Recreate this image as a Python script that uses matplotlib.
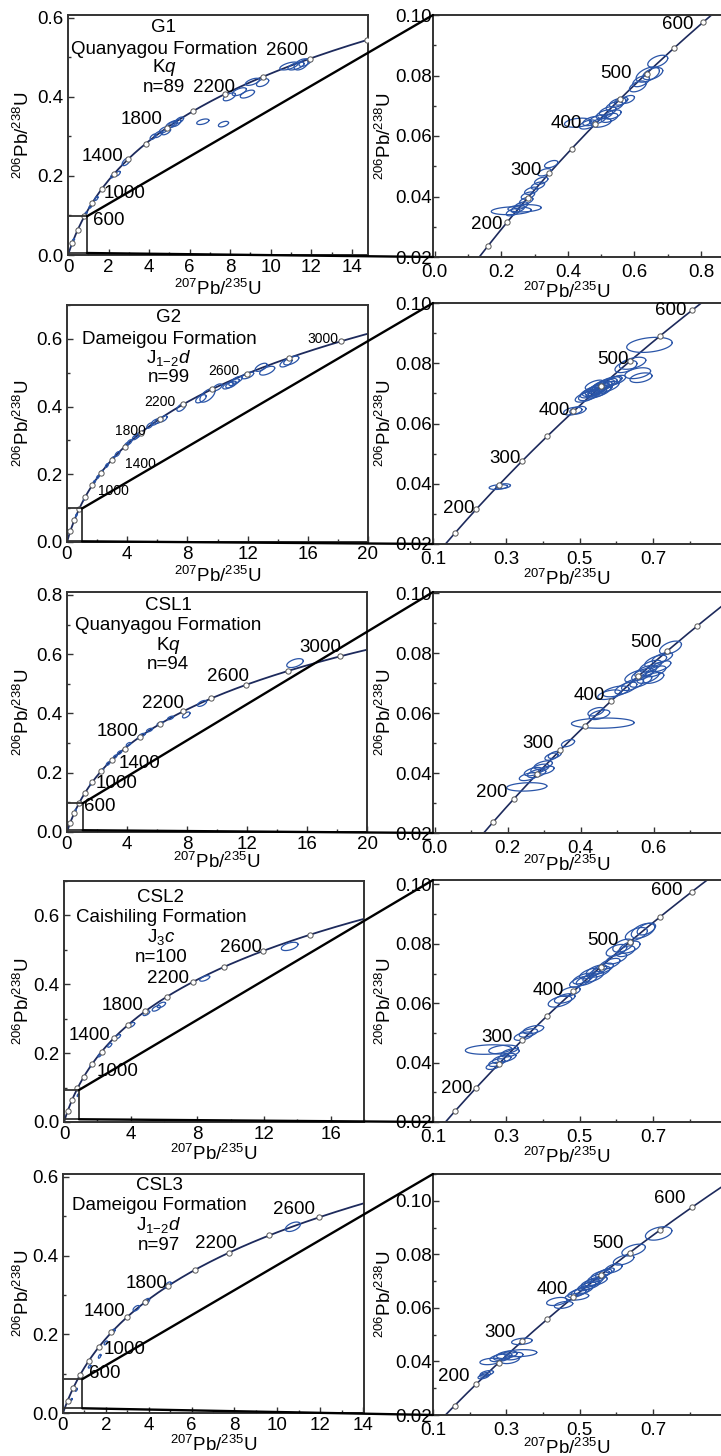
import numpy as np
import matplotlib
matplotlib.use('Agg')
import matplotlib.pyplot as plt
from matplotlib.patches import Rectangle, ConnectionPatch
from matplotlib.ticker import MultipleLocator, FormatStrFormatter

plt.rcParams['font.family'] = ['Liberation Sans', 'DejaVu Sans']
plt.rcParams['mathtext.fontset'] = 'custom'
plt.rcParams['mathtext.rm'] = 'Liberation Sans'
plt.rcParams['mathtext.it'] = 'Liberation Sans:italic'

# ---------------- data ----------------
# decay constants (per Ma)
L238 = 1.55125e-4
L235 = 9.8485e-4

samples = ['G1', 'G2', 'CSL1', 'CSL2', 'CSL3']
formations = ['Quanyagou Formation', 'Dameigou Formation', 'Quanyagou Formation',
              'Caishiling Formation', 'Dameigou Formation']
units = [r'K$\mathit{q}$', r'J$_{1\mathrm{-}2}$$\mathit{d}$', r'K$\mathit{q}$',
         r'J$_{3}$$\mathit{c}$', r'J$_{1\mathrm{-}2}$$\mathit{d}$']
n_grains = ['n=89', 'n=99', 'n=94', 'n=100', 'n=97']

# age labels (Ma) for the full-range and enlarged concordia
G1_ages_L = [2600, 2200, 1800, 1400, 1000, 600]
G2_ages_L = [3000, 2600, 2200, 1800, 1400, 1000]
CSL1_ages_L = [3000, 2600, 2200, 1800, 1400, 1000, 600]
CSL2_ages_L = [2600, 2200, 1800, 1400, 1000]
CSL3_ages_L = [2600, 2200, 1800, 1400, 1000, 600]
G1_ages_R = [600, 500, 400, 300, 200]
G2_ages_R = [600, 500, 400, 300, 200]
CSL1_ages_R = [500, 400, 300, 200]
CSL2_ages_R = [600, 500, 400, 300, 200]
CSL3_ages_R = [600, 500, 400, 300, 200]

# analyses: (207Pb/235U, 206Pb/238U, err x, err y, rho)
G1_all = [
    (10.9, 0.478, 0.45, 0.010, 0.6), (11.25, 0.478, 0.40, 0.010, 0.6),
    (11.5, 0.482, 0.35, 0.014, 0.5), (11.7, 0.487, 0.30, 0.010, 0.6),
    (9.1, 0.438, 0.35, 0.009, 0.6), (9.6, 0.436, 0.30, 0.010, 0.5),
    (7.96, 0.400, 0.30, 0.010, 0.6), (8.45, 0.413, 0.35, 0.010, 0.6),
    (8.85, 0.407, 0.35, 0.010, 0.6), (6.65, 0.337, 0.30, 0.007, 0.5),
    (7.67, 0.331, 0.25, 0.007, 0.5), (4.45, 0.305, 0.20, 0.008, 0.6),
    (4.72, 0.316, 0.22, 0.008, 0.6), (5.05, 0.329, 0.22, 0.008, 0.6),
    (5.17, 0.331, 0.22, 0.009, 0.6), (5.35, 0.334, 0.22, 0.009, 0.6),
    (5.50, 0.341, 0.20, 0.008, 0.6), (4.84, 0.312, 0.22, 0.008, 0.6),
    (4.20, 0.299, 0.15, 0.007, 0.6), (2.87, 0.236, 0.20, 0.010, 0.6),
    (2.46, 0.206, 0.12, 0.006, 0.6), (2.20, 0.200, 0.10, 0.005, 0.6),
    (1.40, 0.143, 0.08, 0.005, 0.6), (1.10, 0.122, 0.07, 0.004, 0.6),
    (0.88, 0.105, 0.06, 0.004, 0.6), (0.48, 0.063, 0.05, 0.004, 0.6),
    (0.27, 0.038, 0.05, 0.003, 0.6), (0.17, 0.025, 0.04, 0.003, 0.6),
]
G1_young = [
    (0.670, 0.0847, 0.030, 0.0020, 0.5), (0.640, 0.0803, 0.035, 0.0025, 0.5),
    (0.655, 0.0806, 0.030, 0.0020, 0.5), (0.610, 0.0764, 0.025, 0.0018, 0.5),
    (0.620, 0.0781, 0.025, 0.0018, 0.5), (0.520, 0.0682, 0.025, 0.0015, 0.5),
    (0.540, 0.0699, 0.025, 0.0015, 0.5), (0.550, 0.0710, 0.025, 0.0015, 0.5),
    (0.510, 0.0671, 0.025, 0.0015, 0.5), (0.490, 0.0655, 0.025, 0.0015, 0.5),
    (0.470, 0.0649, 0.025, 0.0015, 0.5), (0.430, 0.0644, 0.040, 0.0015, 0.3),
    (0.460, 0.0638, 0.025, 0.0015, 0.5), (0.500, 0.0644, 0.030, 0.0015, 0.4),
    (0.525, 0.0660, 0.025, 0.0015, 0.5), (0.560, 0.0715, 0.020, 0.0013, 0.5),
    (0.580, 0.0721, 0.020, 0.0013, 0.5), (0.535, 0.0671, 0.025, 0.0015, 0.5),
    (0.350, 0.0507, 0.020, 0.0012, 0.5), (0.330, 0.0480, 0.020, 0.0012, 0.5),
    (0.320, 0.0452, 0.020, 0.0012, 0.5), (0.310, 0.0436, 0.020, 0.0012, 0.5),
    (0.290, 0.0419, 0.020, 0.0012, 0.5), (0.280, 0.0403, 0.020, 0.0012, 0.5),
    (0.275, 0.0386, 0.020, 0.0012, 0.5), (0.260, 0.0370, 0.020, 0.0012, 0.5),
    (0.250, 0.0359, 0.020, 0.0012, 0.5), (0.235, 0.0348, 0.020, 0.0012, 0.5),
    (0.230, 0.0353, 0.060, 0.0013, 0.2), (0.270, 0.0361, 0.050, 0.0012, 0.2),
]
G2_all = [
    (14.9, 0.536, 0.50, 0.013, 0.6), (14.55, 0.529, 0.40, 0.012, 0.6),
    (13.3, 0.506, 0.50, 0.013, 0.6), (12.9, 0.516, 0.40, 0.012, 0.6),
    (12.0, 0.492, 0.40, 0.010, 0.6), (11.1, 0.472, 0.35, 0.010, 0.6),
    (10.9, 0.465, 0.35, 0.010, 0.6), (11.3, 0.479, 0.35, 0.010, 0.6),
    (10.7, 0.462, 0.35, 0.010, 0.6), (10.0, 0.457, 0.30, 0.010, 0.6),
    (9.33, 0.433, 0.50, 0.020, 0.6), (8.9, 0.423, 0.35, 0.012, 0.6),
    (7.6, 0.398, 0.30, 0.012, 0.6), (6.4, 0.364, 0.25, 0.009, 0.6),
    (6.1, 0.359, 0.25, 0.009, 0.6), (5.85, 0.354, 0.25, 0.009, 0.6),
    (5.5, 0.344, 0.20, 0.008, 0.6), (4.7, 0.315, 0.20, 0.008, 0.6),
    (4.55, 0.310, 0.20, 0.008, 0.6), (4.15, 0.295, 0.15, 0.007, 0.6),
    (3.96, 0.287, 0.15, 0.007, 0.6), (3.35, 0.260, 0.15, 0.007, 0.6),
    (3.04, 0.246, 0.12, 0.006, 0.6), (2.65, 0.226, 0.10, 0.006, 0.6),
    (2.29, 0.206, 0.10, 0.006, 0.6), (2.05, 0.192, 0.09, 0.005, 0.6),
    (1.81, 0.177, 0.08, 0.005, 0.6), (1.15, 0.128, 0.06, 0.005, 0.6),
    (0.62, 0.079, 0.05, 0.004, 0.6),
]
G2_young = [
    (0.690, 0.0861, 0.062, 0.0025, 0.3), (0.644, 0.0800, 0.036, 0.0020, 0.5),
    (0.626, 0.0789, 0.030, 0.0020, 0.5), (0.658, 0.0767, 0.035, 0.0018, 0.4),
    (0.667, 0.0752, 0.030, 0.0016, 0.4), (0.5176, 0.0689, 0.030, 0.0018, 0.6),
    (0.5267, 0.0694, 0.030, 0.0018, 0.6), (0.5312, 0.0703, 0.030, 0.0018, 0.6),
    (0.5375, 0.0708, 0.030, 0.0018, 0.6), (0.5448, 0.0711, 0.030, 0.0018, 0.6),
    (0.5520, 0.0717, 0.030, 0.0018, 0.6), (0.5584, 0.0722, 0.030, 0.0018, 0.6),
    (0.5647, 0.0728, 0.030, 0.0018, 0.6), (0.5720, 0.0732, 0.030, 0.0018, 0.6),
    (0.5810, 0.0737, 0.030, 0.0018, 0.6), (0.5900, 0.0741, 0.025, 0.0016, 0.6),
    (0.6000, 0.0744, 0.025, 0.0016, 0.6), (0.5540, 0.0706, 0.030, 0.0018, 0.6),
    (0.5770, 0.0722, 0.030, 0.0018, 0.6), (0.5400, 0.0728, 0.025, 0.0016, 0.6),
    (0.5450, 0.0700, 0.028, 0.0016, 0.6), (0.5600, 0.0712, 0.028, 0.0016, 0.6),
    (0.4810, 0.0641, 0.025, 0.0013, 0.4), (0.4950, 0.0644, 0.022, 0.0013, 0.4),
    (0.2780, 0.0389, 0.025, 0.0008, 0.3), (0.2910, 0.0392, 0.020, 0.0008, 0.3),
]
CSL1_all = [
    (15.2, 0.570, 0.55, 0.015, 0.5), (9.0, 0.434, 0.30, 0.010, 0.6),
    (7.95, 0.395, 0.25, 0.010, 0.6), (6.9, 0.385, 0.20, 0.006, 0.6),
    (6.2, 0.366, 0.20, 0.006, 0.6), (5.5, 0.344, 0.20, 0.006, 0.6),
    (5.0, 0.327, 0.20, 0.006, 0.6), (4.85, 0.321, 0.15, 0.006, 0.6),
    (4.1, 0.296, 0.15, 0.006, 0.6), (3.5, 0.268, 0.14, 0.006, 0.6),
    (3.2, 0.254, 0.12, 0.006, 0.6), (2.74, 0.231, 0.12, 0.006, 0.6),
    (2.34, 0.209, 0.10, 0.005, 0.6), (1.61, 0.163, 0.08, 0.005, 0.6),
    (1.17, 0.130, 0.06, 0.004, 0.6), (0.56, 0.073, 0.05, 0.004, 0.6),
]
CSL1_young = [
    (0.6465, 0.0819, 0.030, 0.0022, 0.5), (0.5785, 0.0740, 0.030, 0.0020, 0.6),
    (0.5513, 0.0724, 0.030, 0.0020, 0.6), (0.6057, 0.0774, 0.030, 0.0020, 0.6),
    (0.6239, 0.0785, 0.028, 0.0018, 0.6), (0.5921, 0.0757, 0.030, 0.0020, 0.6),
    (0.5649, 0.0707, 0.030, 0.0020, 0.6), (0.5422, 0.0696, 0.030, 0.0020, 0.6),
    (0.5241, 0.0684, 0.030, 0.0020, 0.6), (0.6000, 0.0718, 0.028, 0.0018, 0.5),
    (0.6057, 0.0740, 0.028, 0.0018, 0.6), (0.6193, 0.0757, 0.028, 0.0018, 0.6),
    (0.5700, 0.0730, 0.030, 0.0020, 0.6), (0.5850, 0.0720, 0.030, 0.0020, 0.6),
    (0.4969, 0.0673, 0.036, 0.0018, 0.5), (0.4788, 0.0662, 0.032, 0.0016, 0.5),
    (0.4516, 0.0595, 0.028, 0.0016, 0.5), (0.4420, 0.0605, 0.022, 0.0014, 0.5),
    (0.4607, 0.0567, 0.086, 0.0017, 0.1), (0.3653, 0.0500, 0.018, 0.0012, 0.5),
    (0.3291, 0.0461, 0.018, 0.0012, 0.5), (0.3200, 0.0455, 0.018, 0.0012, 0.5),
    (0.2884, 0.0416, 0.025, 0.0014, 0.5), (0.2703, 0.0405, 0.025, 0.0014, 0.5),
    (0.2975, 0.0427, 0.025, 0.0014, 0.5), (0.2793, 0.0399, 0.025, 0.0014, 0.5),
    (0.2567, 0.0388, 0.025, 0.0013, 0.5), (0.3050, 0.0410, 0.022, 0.0013, 0.5),
    (0.2522, 0.0354, 0.055, 0.0014, 0.2),
]
CSL2_all = [
    (13.54, 0.510, 0.50, 0.012, 0.5), (8.44, 0.417, 0.30, 0.008, 0.6),
    (5.84, 0.340, 0.25, 0.008, 0.6), (5.54, 0.330, 0.25, 0.008, 0.6),
    (4.94, 0.316, 0.20, 0.007, 0.6), (4.04, 0.282, 0.20, 0.007, 0.6),
    (3.24, 0.248, 0.15, 0.006, 0.6), (2.74, 0.223, 0.12, 0.006, 0.6),
    (2.14, 0.194, 0.10, 0.005, 0.6), (1.64, 0.165, 0.08, 0.005, 0.6),
    (1.24, 0.126, 0.06, 0.004, 0.6), (0.84, 0.078, 0.05, 0.004, 0.6),
]
CSL2_young = [
    (0.6724, 0.0844, 0.032, 0.0025, 0.5), (0.6543, 0.0833, 0.030, 0.0022, 0.5),
    (0.6815, 0.0850, 0.025, 0.0020, 0.5), (0.6181, 0.0794, 0.028, 0.0022, 0.5),
    (0.6362, 0.0789, 0.028, 0.0020, 0.5), (0.6000, 0.0778, 0.028, 0.0020, 0.5),
    (0.6250, 0.0775, 0.025, 0.0018, 0.5), (0.6000, 0.0750, 0.028, 0.0018, 0.6),
    (0.5819, 0.0733, 0.028, 0.0018, 0.6), (0.5637, 0.0717, 0.028, 0.0018, 0.6),
    (0.5547, 0.0706, 0.028, 0.0018, 0.6), (0.5366, 0.0689, 0.028, 0.0018, 0.6),
    (0.5184, 0.0678, 0.028, 0.0018, 0.6), (0.5003, 0.0672, 0.028, 0.0018, 0.6),
    (0.5093, 0.0683, 0.028, 0.0018, 0.6), (0.5275, 0.0700, 0.028, 0.0018, 0.6),
    (0.5456, 0.0711, 0.028, 0.0018, 0.6), (0.4732, 0.0639, 0.028, 0.0016, 0.5),
    (0.4460, 0.0606, 0.032, 0.0019, 0.5), (0.4590, 0.0616, 0.028, 0.0016, 0.5),
    (0.3735, 0.0511, 0.028, 0.0014, 0.5), (0.3599, 0.0500, 0.025, 0.0014, 0.5),
    (0.3463, 0.0489, 0.025, 0.0014, 0.5), (0.2512, 0.0444, 0.063, 0.0016, 0.2),
    (0.2920, 0.0444, 0.040, 0.0015, 0.3), (0.3100, 0.0433, 0.025, 0.0014, 0.5),
    (0.3010, 0.0417, 0.025, 0.0014, 0.5), (0.2875, 0.0411, 0.025, 0.0014, 0.5),
    (0.2739, 0.0400, 0.022, 0.0013, 0.5), (0.2648, 0.0389, 0.020, 0.0012, 0.5),
]
CSL3_all = [
    (10.73, 0.473, 0.35, 0.012, 0.5), (4.9, 0.325, 0.15, 0.008, 0.6),
    (3.89, 0.283, 0.15, 0.008, 0.6), (3.42, 0.266, 0.15, 0.007, 0.6),
    (2.33, 0.207, 0.10, 0.006, 0.6), (1.71, 0.144, 0.06, 0.005, 0.6),
    (2.0, 0.178, 0.08, 0.005, 0.6), (1.24, 0.118, 0.06, 0.004, 0.6),
    (0.62, 0.059, 0.05, 0.004, 0.6), (0.39, 0.034, 0.04, 0.003, 0.6),
]
CSL3_young = [
    (0.7150, 0.0878, 0.036, 0.0025, 0.4), (0.6468, 0.0816, 0.032, 0.0022, 0.5),
    (0.6195, 0.0779, 0.028, 0.0019, 0.5), (0.5923, 0.0748, 0.023, 0.0017, 0.5),
    (0.5559, 0.0723, 0.025, 0.0016, 0.6), (0.5468, 0.0711, 0.025, 0.0016, 0.6),
    (0.5377, 0.0698, 0.025, 0.0016, 0.6), (0.5286, 0.0692, 0.025, 0.0016, 0.6),
    (0.5195, 0.0680, 0.025, 0.0016, 0.6), (0.5104, 0.0667, 0.025, 0.0016, 0.6),
    (0.5014, 0.0661, 0.025, 0.0016, 0.6), (0.4923, 0.0655, 0.025, 0.0016, 0.6),
    (0.5650, 0.0729, 0.022, 0.0015, 0.6), (0.5741, 0.0735, 0.020, 0.0014, 0.6),
    (0.5500, 0.0700, 0.025, 0.0016, 0.6), (0.5300, 0.0685, 0.025, 0.0016, 0.6),
    (0.4923, 0.0642, 0.032, 0.0013, 0.3), (0.4377, 0.0624, 0.028, 0.0015, 0.4),
    (0.4559, 0.0611, 0.025, 0.0013, 0.4), (0.3423, 0.0475, 0.028, 0.0012, 0.3),
    (0.3377, 0.0431, 0.045, 0.0013, 0.2), (0.3014, 0.0425, 0.028, 0.0014, 0.4),
    (0.2832, 0.0413, 0.028, 0.0014, 0.4), (0.2559, 0.0400, 0.028, 0.0012, 0.3),
    (0.2900, 0.0418, 0.025, 0.0014, 0.4), (0.3104, 0.0406, 0.025, 0.0014, 0.4),
    (0.3200, 0.0420, 0.025, 0.0014, 0.4), (0.2468, 0.0356, 0.018, 0.0010, 0.5),
    (0.2377, 0.0344, 0.015, 0.0009, 0.5), (0.2420, 0.0350, 0.015, 0.0009, 0.5),
]

all_data = [G1_all, G2_all, CSL1_all, CSL2_all, CSL3_all]
young_data = [G1_young, G2_young, CSL1_young, CSL2_young, CSL3_young]
ages_L = [G1_ages_L, G2_ages_L, CSL1_ages_L, CSL2_ages_L, CSL3_ages_L]
ages_R = [G1_ages_R, G2_ages_R, CSL1_ages_R, CSL2_ages_R, CSL3_ages_R]

# ---------------- layout (pixels) ----------------
W, H = 721, 1456
left_px = [(68, 15, 368, 255), (67, 305, 368, 542), (67, 592, 367, 832),
           (64, 881, 364, 1122), (63, 1174, 364, 1413)]
right_px = [(433, 15, 721, 257), (433, 303, 721, 544), (433, 592, 721, 833),
            (433, 880, 721, 1122), (433, 1174, 721, 1415)]
lxlim = [(0, 14.8), (0, 20), (0, 20), (0, 18), (0, 14.05)]
lylim = [(0, 0.607), (0, 0.70), (0, 0.81), (0, 0.70), (0, 0.607)]
lxstep = [2, 4, 4, 4, 2]
rxlim = [(-0.005, 0.86), (0.1, 0.885), (-0.005, 0.785), (0.1, 0.885), (0.1, 0.885)]
rylim = [(0.02, 0.10), (0.02, 0.10), (0.02, 0.1005), (0.02, 0.1015), (0.02, 0.11)]
rxstart = [0.0, 0.1, 0.0, 0.1, 0.1]
boxes = [(0, 0.005, 0.94, 0.098), (0, 0.002, 1.0, 0.099), (0, 0.006, 1.05, 0.097),
         (0, 0.008, 0.9, 0.093), (0, 0.012, 0.9, 0.086)]
title_xy = [(164, 28), (169, 318), (168, 605), (161, 897), (159, 1185)]
xlab_y = [289, 576, 862, 1154, 1445]

# age-label text positions in data coordinates
lab_L = [
    [(10.79, 0.518), (7.22, 0.424), (3.61, 0.343), (1.72, 0.248), (2.79, 0.156), (2.02, 0.088)],
    [(17.0, 0.600), (10.4, 0.506), (6.2, 0.413), (4.2, 0.327), (4.9, 0.231), (3.1, 0.152)],
    [(16.9, 0.623), (10.7, 0.526), (6.4, 0.434), (3.4, 0.338), (4.8, 0.231), (3.3, 0.163), (2.2, 0.085)],
    [(10.64, 0.507), (6.24, 0.417), (3.54, 0.338), (1.54, 0.252), (3.24, 0.146)],
    [(10.76, 0.517), (7.15, 0.431), (3.89, 0.330), (1.94, 0.258), (2.88, 0.161), (1.94, 0.101)],
]
lab_R = [
    [(0.73, 0.0967), (0.545, 0.0806), (0.395, 0.0642), (0.275, 0.0485), (0.155, 0.0306)],
    [(0.749, 0.0974), (0.59, 0.0814), (0.432, 0.0644), (0.296, 0.0483), (0.169, 0.0319)],
    [(0.5785, 0.0836), (0.4244, 0.066), (0.2839, 0.050), (0.157, 0.0334)],
    [(0.7376, 0.0978), (0.5637, 0.0811), (0.4143, 0.0644), (0.2739, 0.0483), (0.1634, 0.0313)],
    [(0.745, 0.1009), (0.576, 0.0839), (0.424, 0.067), (0.283, 0.0508), (0.156, 0.0344)],
]
lab_L_size = [13.5, 10, 13.5, 13.5, 13.5]

CONC = '#1d2a5c'
ELL = '#2a55a8'
SPINE = '#333333'
FS = 13.5


def conc(t):
    t = np.asarray(t, dtype=float)
    return np.exp(L235 * t) - 1.0, np.exp(L238 * t) - 1.0


def ellipse(ax, x, y, ex, ey, rho):
    th = np.linspace(0, 2 * np.pi, 80)
    cov = np.array([[ex * ex, rho * ex * ey], [rho * ex * ey, ey * ey]])
    Lc = np.linalg.cholesky(cov)
    p = Lc @ np.vstack([np.cos(th), np.sin(th)])
    ax.plot(x + p[0], y + p[1], color=ELL, lw=0.9, zorder=3)


def rect(px):
    x0, y0, x1, y1 = px
    return [x0 / W, 1 - y1 / H, (x1 - x0) / W, (y1 - y0) / H]


def style(ax):
    for s in ax.spines.values():
        s.set_color(SPINE)
        s.set_linewidth(1.4)
    ax.tick_params(which='both', direction='in', labelsize=FS, colors=SPINE,
                   labelcolor='black', width=1.0)
    ax.tick_params(which='major', length=4, pad=3)
    ax.tick_params(which='minor', length=2.5)


XLAB = r'$^{207}$Pb/$^{235}$U'
YLAB = r'$^{206}$Pb/$^{238}$U'

fig = plt.figure(figsize=(W / 100, H / 100), dpi=100)

for i in range(5):
    axL = fig.add_axes(rect(left_px[i]))
    axR = fig.add_axes(rect(right_px[i]))

    # ----- left full-range concordia -----
    t = np.linspace(0, 3400, 600)
    cx, cy = conc(t)
    axL.plot(cx, cy, color=CONC, lw=1.3, zorder=2)
    for d in all_data[i]:
        ellipse(axL, *d)
    mt = np.arange(200, 3401, 200)
    mx, my = conc(mt)
    axL.plot(mx, my, 'o', ms=3.8, mfc='white', mec='#555555', mew=0.7, zorder=4)
    for a, (tx, ty) in zip(ages_L[i], lab_L[i]):
        axL.text(tx, ty, str(a), fontsize=lab_L_size[i], ha='center', va='center', zorder=5)
    axL.set_xlim(*lxlim[i])
    axL.set_ylim(*lylim[i])
    axL.xaxis.set_major_locator(MultipleLocator(lxstep[i]))
    axL.xaxis.set_minor_locator(MultipleLocator(lxstep[i] / 2))
    axL.yaxis.set_major_locator(MultipleLocator(0.2))
    axL.yaxis.set_minor_locator(MultipleLocator(0.1))
    axL.yaxis.set_major_formatter(FormatStrFormatter('%.1f'))
    style(axL)
    b = boxes[i]
    axL.add_patch(Rectangle((b[0], b[1]), b[2] - b[0], b[3] - b[1], fill=False,
                            ec=SPINE, lw=1.3, zorder=5))
    axL.set_ylabel(YLAB, fontsize=FS)
    axL.yaxis.label.set_va('center')
    axL.yaxis.set_label_coords((23 - left_px[i][0]) / (left_px[i][2] - left_px[i][0]), 0.5)

    # ----- right enlarged concordia -----
    t2 = np.linspace(60, 720, 400)
    cx2, cy2 = conc(t2)
    axR.plot(cx2, cy2, color=CONC, lw=1.2, zorder=2)
    for d in young_data[i]:
        ellipse(axR, *d)
    mt2 = np.arange(100, 701, 50)
    mx2, my2 = conc(mt2)
    axR.plot(mx2, my2, 'o', ms=3.8, mfc='white', mec='#555555', mew=0.7, zorder=4)
    for a, (tx, ty) in zip(ages_R[i], lab_R[i]):
        axR.text(tx, ty, str(a), fontsize=FS, ha='center', va='center', zorder=5)
    axR.set_xlim(*rxlim[i])
    axR.set_ylim(*rylim[i])
    axR.set_xticks(np.arange(rxstart[i], rxlim[i][1] - 0.02, 0.2))
    axR.xaxis.set_minor_locator(MultipleLocator(0.1))
    axR.yaxis.set_major_locator(MultipleLocator(0.02))
    axR.yaxis.set_minor_locator(MultipleLocator(0.01))
    axR.xaxis.set_major_formatter(FormatStrFormatter('%.1f'))
    axR.yaxis.set_major_formatter(FormatStrFormatter('%.2f'))
    style(axR)
    axR.tick_params(axis='y', pad=1)
    axR.tick_params(axis='x', pad=5)
    axR.spines['right'].set_visible(False)
    axR.set_ylabel(YLAB, fontsize=FS)
    axR.yaxis.label.set_va('center')
    axR.yaxis.set_label_coords((385 - right_px[i][0]) / (right_px[i][2] - right_px[i][0]), 0.5)

    # x labels
    hL = left_px[i][3] - left_px[i][1]
    axL.set_xlabel(XLAB, fontsize=FS)
    axL.xaxis.set_label_coords(0.5, (left_px[i][3] - xlab_y[i]) / hL)
    axL.xaxis.label.set_va('center')
    hR = right_px[i][3] - right_px[i][1]
    axR.set_xlabel(XLAB, fontsize=FS)
    axR.xaxis.set_label_coords((567 - 433) / (721 - 433), (right_px[i][3] - xlab_y[i] - 3) / hR)
    axR.xaxis.label.set_va('center')

    # connector lines
    for (xa, ya), (xb, yb) in [((b[2], b[3]), (0, 1)), ((b[2], b[1]), (0, 0))]:
        cp = ConnectionPatch(xyA=(xa, ya), coordsA=axL.transData,
                             xyB=(xb, yb), coordsB=axR.transAxes,
                             color='black', lw=1.7, zorder=10)
        fig.add_artist(cp)

    # sample annotation
    tx, ty = title_xy[i]
    lines = [samples[i], formations[i], units[i], n_grains[i]]
    offs = [0, 21, 40, 60]
    for s, o in zip(lines, offs):
        fig.text(tx / W, 1 - (ty + o) / H, s, fontsize=FS, ha='center', va='center')

fig.savefig('out.png', dpi=100)
